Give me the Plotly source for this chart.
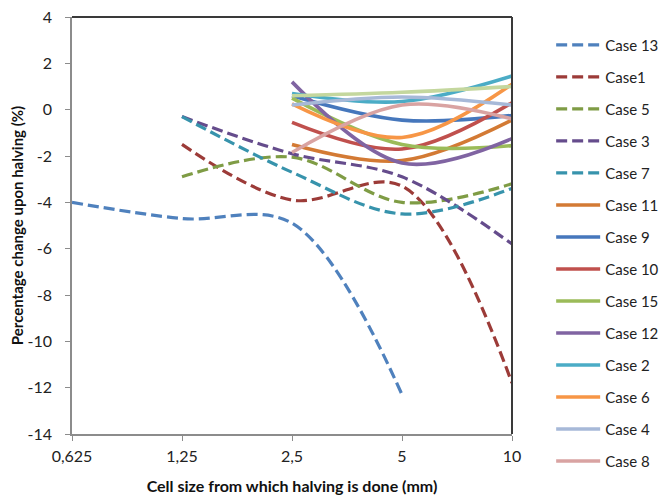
import plotly.graph_objects as go

x_labels = ["0,625", "1,25", "2,5", "5", "10"]
y_ticks = [4, 2, 0, -2, -4, -6, -8, -10, -12, -14]
y_tick_text = ["4", "2", "0", "-2", "-4", "-6", "-8", "-10", "-12", "-14"]

case13 = [-4.0, -4.7, -4.9, -12.3, None]
case1 = [None, -1.5, -3.9, -3.3, -11.8]
case5 = [None, -2.9, -2.05, -4.0, -3.2]
case3 = [None, -0.3, -1.9, -2.9, -5.8]
case7 = [None, -0.3, -2.7, -4.5, -3.4]
case11 = [None, None, -1.5, -2.2, -0.45]
case9 = [None, None, 0.6, -0.45, -0.25]
case10 = [None, None, -0.55, -1.7, 0.3]
case15 = [None, None, 0.5, -1.5, -1.55]
case12 = [None, None, 1.2, -2.3, -1.25]
case2 = [None, None, 0.7, 0.35, 1.45]
case6 = [None, None, 0.25, -1.2, 1.1]
case4 = [None, None, 0.2, 0.55, 0.2]
case8 = [None, None, -1.85, 0.2, -0.4]
case14 = [None, None, 0.6, 0.75, 1.0]

series = [
    ("Case 13", case13, "#4F81BD", True, True),
    ("Case1", case1, "#9C3B38", True, True),
    ("Case 5", case5, "#7F9C45", True, True),
    ("Case 3", case3, "#654C8C", True, True),
    ("Case 7", case7, "#3793AC", True, True),
    ("Case 11", case11, "#D37A34", False, True),
    ("Case 9", case9, "#4677BC", False, True),
    ("Case 10", case10, "#C0504D", False, True),
    ("Case 15", case15, "#9BBB59", False, True),
    ("Case 12", case12, "#8064A2", False, True),
    ("Case 2", case2, "#4BACC6", False, True),
    ("Case 6", case6, "#F79646", False, True),
    ("Case 4", case4, "#A7B9D8", False, True),
    ("Case 8", case8, "#D9A3A2", False, True),
    ("Case 14", case14, "#C4D79E", False, False),
]

FONT = "Lato, 'Open Sans', sans-serif"

fig = go.Figure()
for i, (name, vals, color, dashed, show) in enumerate(series):
    fig.add_trace(go.Scatter(
        x=x_labels, y=vals, name=name, mode="lines",
        line=dict(color=color, width=3.2 if dashed else 3.6,
                  dash="11px,5px" if dashed else "solid",
                  shape="spline", smoothing=1.0),
        showlegend=show, legendgroup="g%d" % i,
    ))

# the page body adds an 8px offset, so the figure is sized/offset to compensate
fig.update_layout(
    width=659, height=487,
    margin=dict(l=64, r=155, t=8.5, b=60.5, autoexpand=False),
    paper_bgcolor="white", plot_bgcolor="white",
    font=dict(family=FONT, size=16, color="#222222"),
    showlegend=True,
    legend=dict(x=1.089, y=0.972, xanchor="left", yanchor="top",
                tracegroupgap=9.5, itemwidth=44, maxheight=480,
                font=dict(size=15, color="#222222"),
                bgcolor="rgba(0,0,0,0)"),
    xaxis=dict(type="category", range=[0, 4], showgrid=False, zeroline=False,
               automargin=False,
               showline=True, linecolor="#8C8C8C", linewidth=1.5,
               ticks="outside", ticklen=5, tickcolor="#8C8C8C",
               ticklabelstandoff=2,
               title=dict(text="Cell size from which halving is done (mm)",
                          font=dict(size=16, weight="bold", color="#111111"),
                          standoff=17)),
    yaxis=dict(range=[-14, 4], tickvals=y_ticks, ticktext=y_tick_text,
               showgrid=False, zeroline=False, automargin=False,
               showline=True, linecolor="#8C8C8C", linewidth=1.5,
               ticks="outside", ticklen=5, tickcolor="#8C8C8C",
               ticklabelstandoff=10, ticklabeloverflow="allow",
               title=dict(text="Percentage change upon halving (%)",
                          font=dict(size=15, weight="bold", color="#111111"),
                          standoff=1)),
    shapes=[
        dict(type="line", xref="paper", yref="paper", x0=0, x1=1, y0=1, y1=1,
             line=dict(color="#3A3A3A", width=2)),
        dict(type="line", xref="paper", yref="paper", x0=1, x1=1, y0=0, y1=1,
             line=dict(color="#3A3A3A", width=2)),
    ],
)

fig.write_html("out.html")
